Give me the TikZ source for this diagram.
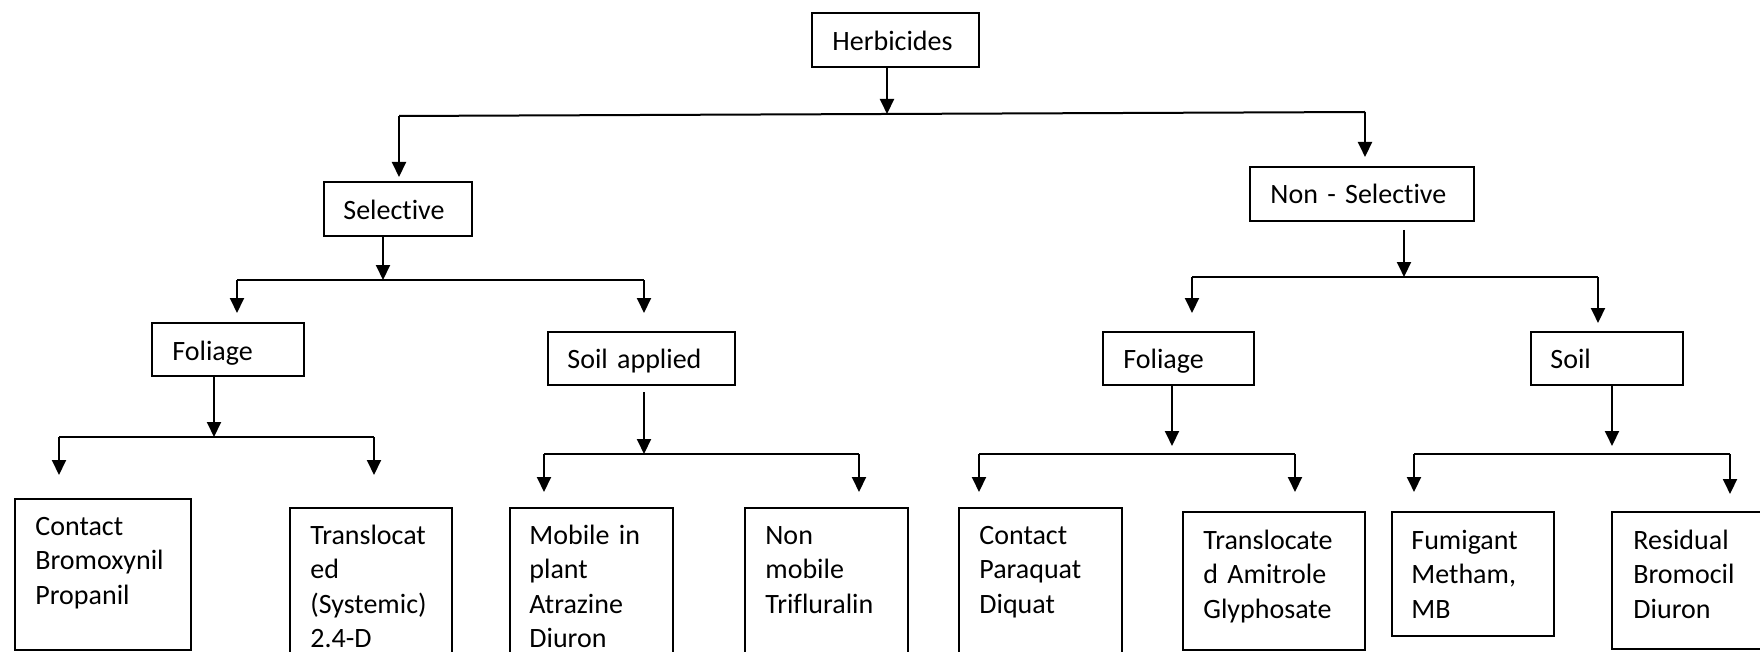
\documentclass[tikz,border=0pt]{standalone}
\usepackage{fontspec}
\setmainfont{Carlito}[Ligatures=NoCommon]
\usetikzlibrary{arrows.meta,fit}
\tikzset{
  box/.style={draw, line width=1pt, inner sep=0pt, rectangle},
  txt/.style={anchor=base west, inner sep=0pt, text width=95pt, align=left,
              font=\fontsize{14}{17.3}\selectfont},
  conn/.style={line width=1pt},
  arr/.style={line width=1pt, -{Triangle[length=7.5pt,width=7pt]}},
}
\begin{document}
\begin{tikzpicture}[x=0.5pt,y=-0.5pt]
\useasboundingbox (0,0) rectangle (1760,652);
\clip (0,0) rectangle (1760,652);

% ---------- boxes ----------
\node[box, fit={(812,13)(979,67)}] (herb) {};
\node[txt] (herbT) at (832,51) {Herbicides};

\node[box, fit={(324,182)(472,236)}] (sel) {};
\node[txt] (selT) at (343,220) {Selective};

\node[box, fit={(1250,167)(1474,221)}] (nsel) {};
\node[txt] (nselT) at (1270,204) {Non - Selective};

\node[box, fit={(152,323)(304,376)}] (folL) {};
\node[txt] (folLT) at (172,360) {Foliage};

\node[box, fit={(548,332)(735,385)}] (soilA) {};
\node[txt] (soilAT) at (567,368) {Soil applied};

\node[box, fit={(1103,332)(1254,385)}] (folR) {};
\node[txt] (folRT) at (1123,368) {Foliage};

\node[box, fit={(1531,332)(1683,385)}] (soil) {};
\node[txt] (soilT) at (1550,368) {Soil};

\node[box, fit={(15,499)(191,650)}] (cb) {};
\node[txt] (cbT) at (35,535) {Contact\\Bromoxynil\\Propanil};

\node[box, fit={(290,508)(452,720)}] (tr) {};
\node[txt] (trT) at (310,544) {Translocat\\ed\\(Systemic)\\2.4-D};

\node[box, fit={(510,508)(673,720)}] (mob) {};
\node[txt] (mobT) at (529,544) {Mobile in\\plant\\Atrazine\\Diuron};

\node[box, fit={(745,508)(908,720)}] (nmob) {};
\node[txt] (nmobT) at (765,544) {Non\\mobile\\Trifluralin};

\node[box, fit={(959,508)(1122,720)}] (cp) {};
\node[txt] (cpT) at (979,544) {Contact\\Paraquat\\Diquat};

\node[box, fit={(1183,512)(1365,650)}] (ta) {};
\node[txt] (taT) at (1203,549) {Translocate\\d Amitrole\\Glyphosate};

\node[box, fit={(1392,512)(1554,636)}] (fum) {};
\node[txt] (fumT) at (1411,549) {Fumigant\\Metham,\\MB};

\node[box, fit={(1612,512)(1800,649)}] (res) {};
\node[txt] (resT) at (1633,549) {Residual\\Bromocil\\Diuron};

% ---------- level 1 ----------
\coordinate (j0) at (887,114);
\coordinate (b0l) at (399,116);
\coordinate (b0r) at (1365,112);
\coordinate (t0l) at (399,177);
\coordinate (t0r) at (1365,157);
\draw[arr] (herb.south -| j0) -- (j0);
\draw[conn] (b0l) -- (b0r);
\draw[arr] (b0l) -- (t0l);
\draw[arr] (b0r) -- (t0r);

% ---------- Selective ----------
\coordinate (j1) at (383,280);
\coordinate (b1l) at (237,280);
\coordinate (b1r) at (644,280);
\coordinate (t1l) at (237,313);
\coordinate (t1r) at (644,313);
\draw[arr] (sel.south -| j1) -- (j1);
\draw[conn] (b1l) -- (b1r);
\draw[arr] (b1l) -- (t1l);
\draw[arr] (b1r) -- (t1r);

% ---------- Non-Selective ----------
\coordinate (s2) at (1404,230);
\coordinate (j2) at (1404,277);
\coordinate (b2l) at (1192,277);
\coordinate (b2r) at (1598,277);
\coordinate (t2l) at (1192,313);
\coordinate (t2r) at (1598,323);
\draw[arr] (s2) -- (j2);
\draw[conn] (b2l) -- (b2r);
\draw[arr] (b2l) -- (t2l);
\draw[arr] (b2r) -- (t2r);

% ---------- Foliage (left) ----------
\coordinate (j3) at (214,437);
\coordinate (b3l) at (59,437);
\coordinate (b3r) at (374,437);
\coordinate (t3l) at (59,475);
\coordinate (t3r) at (374,475);
\draw[arr] (folL.south -| j3) -- (j3);
\draw[conn] (b3l) -- (b3r);
\draw[arr] (b3l) -- (t3l);
\draw[arr] (b3r) -- (t3r);

% ---------- Soil applied ----------
\coordinate (s4) at (644,392);
\coordinate (j4) at (644,454);
\coordinate (b4l) at (544,454);
\coordinate (b4r) at (859,454);
\coordinate (t4l) at (544,492);
\coordinate (t4r) at (859,492);
\draw[arr] (s4) -- (j4);
\draw[conn] (b4l) -- (b4r);
\draw[arr] (b4l) -- (t4l);
\draw[arr] (b4r) -- (t4r);

% ---------- Foliage (right) ----------
\coordinate (j5) at (1172,446);
\coordinate (b5l) at (979,454);
\coordinate (b5r) at (1295,454);
\coordinate (t5l) at (979,492);
\coordinate (t5r) at (1295,492);
\draw[arr] (folR.south -| j5) -- (j5);
\draw[conn] (b5l) -- (b5r);
\draw[arr] (b5l) -- (t5l);
\draw[arr] (b5r) -- (t5r);

% ---------- Soil ----------
\coordinate (j6) at (1612,446);
\coordinate (b6l) at (1414,454);
\coordinate (b6r) at (1730,454);
\coordinate (t6l) at (1414,492);
\coordinate (t6r) at (1730,494);
\draw[arr] (soil.south -| j6) -- (j6);
\draw[conn] (b6l) -- (b6r);
\draw[arr] (b6l) -- (t6l);
\draw[arr] (b6r) -- (t6r);
\end{tikzpicture}
\end{document}
